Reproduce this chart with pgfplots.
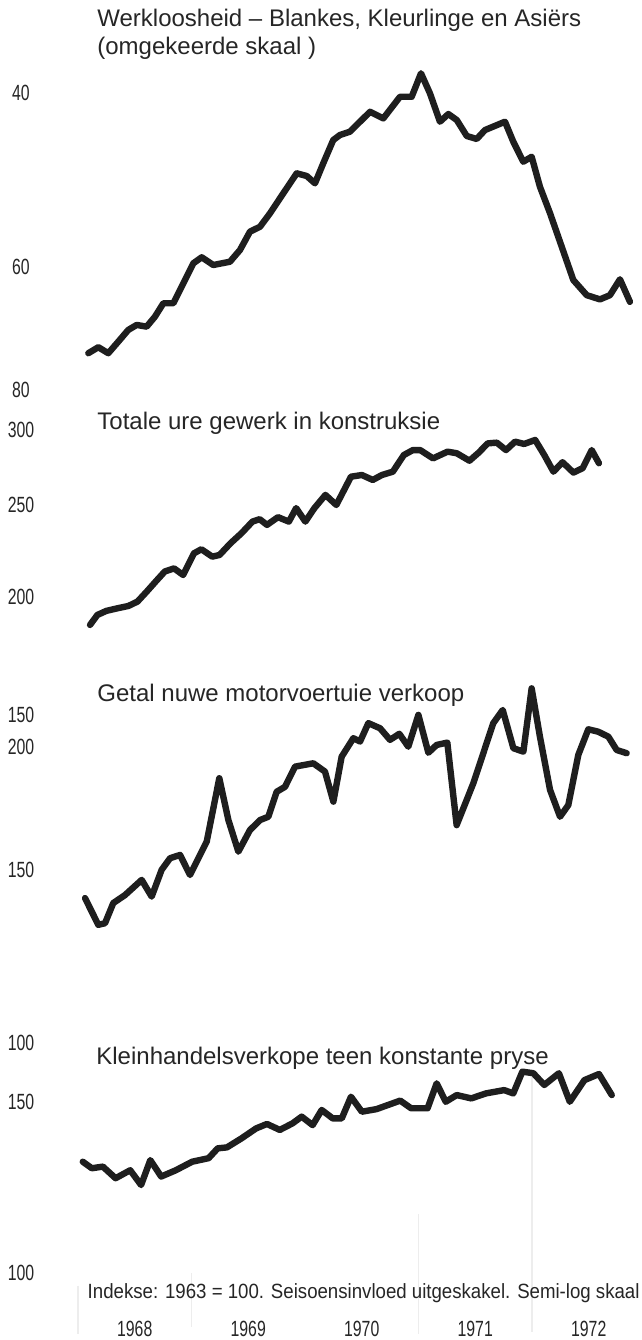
\documentclass[border=0pt]{standalone}
\usepackage{fontspec}
\setmainfont{Liberation Sans}
\newfontfamily\condfont[FakeStretch=0.72]{Liberation Sans}
\newfontfamily\notefont[FakeStretch=0.905]{Liberation Sans}
\usepackage{pgfplots}
\pgfplotsset{compat=1.18}
\definecolor{ink}{HTML}{1E1E1E}
\definecolor{txt}{HTML}{262626}

% one axis per panel, all laid over the same box (1px = 0.5pt)
\pgfplotsset{
  panel/.style={
    at={(0,0)}, anchor=south west, scale only axis,
    width=321pt, height=670pt,
    xmin=1967.3128, xmax=1972.9692,
    clip=false,
    axis line style={draw=none}, tick style={draw=none},
    xtick=\empty,
    yticklabel style={font=\condfont\fontsize{11}{11}\selectfont, text=txt, anchor=center, xshift=10.5pt},
  },
  series/.style={line width=3.2pt, color=ink, line join=round, line cap=round, mark=none},
}

\begin{document}
\begin{tikzpicture}
\useasboundingbox (0,0) rectangle (321pt,670pt);
\fill[white] (0,0) rectangle (321pt,670pt);

% Werkloosheid (omgekeerde skaal)
\begin{axis}[ymode=log, panel, y dir=reverse, ymin=32.16, ymax=737.5,
  ytick={40,60,80}, yticklabels={40,60,80}]
\addplot[series] coordinates {
(1968.091,73.43) (1968.179,72.41) (1968.267,73.43) (1968.355,71.47) (1968.443,69.54)
(1968.517,68.73) (1968.605,69.01) (1968.678,67.42) (1968.752,65.34) (1968.840,65.34)
(1968.928,62.36) (1969.016,59.51) (1969.090,58.68) (1969.192,59.75) (1969.339,59.29)
(1969.427,57.69) (1969.515,55.27) (1969.604,54.63) (1969.692,52.94) (1969.809,50.52)
(1969.927,48.22) (1970.015,48.52) (1970.088,49.36) (1970.161,47.10) (1970.249,44.61)
(1970.308,44.09) (1970.396,43.75) (1970.573,41.76) (1970.690,42.41) (1970.837,40.32)
(1970.940,40.32) (1971.022,38.17) (1971.101,40.00) (1971.189,42.74) (1971.263,41.98)
(1971.337,42.57) (1971.425,44.19) (1971.513,44.50) (1971.586,43.58) (1971.762,42.74)
(1971.835,44.78) (1971.923,46.93) (1971.997,46.39) (1972.070,49.76) (1972.159,52.94)
(1972.262,57.25) (1972.364,61.88) (1972.482,64.11) (1972.599,64.75) (1972.687,64.11)
(1972.775,61.78) (1972.863,65.12)
};
\end{axis}

% Totale ure gewerk in konstruksie
\begin{axis}[ymode=log, panel, ymin=32.81, ymax=853.3,
  ytick={150,200,250,300}, yticklabels={150,200,250,300}]
\addplot[series] coordinates {
(1968.106,186.7) (1968.171,191.3) (1968.251,193.2) (1968.347,194.4) (1968.444,195.5)
(1968.524,197.6) (1968.605,202.4) (1968.685,207.5) (1968.765,212.6) (1968.846,214.2)
(1968.926,210.8) (1969.022,222.2) (1969.087,224.4) (1969.183,220.4) (1969.247,221.3)
(1969.344,227.7) (1969.440,233.3) (1969.537,240.0) (1969.601,241.4) (1969.665,238.1)
(1969.762,242.6) (1969.858,240.0) (1969.922,248.0) (1970.003,240.0) (1970.083,248.0)
(1970.180,256.1) (1970.276,249.9) (1970.405,267.7) (1970.501,268.8) (1970.597,265.6)
(1970.678,268.8) (1970.774,271.0) (1970.871,282.2) (1970.951,285.6) (1971.015,285.6)
(1971.128,279.9) (1971.256,284.5) (1971.337,283.4) (1971.449,278.3) (1971.530,283.8)
(1971.610,290.3) (1971.690,290.8) (1971.771,285.6) (1971.851,291.5) (1971.931,289.9)
(1972.028,292.7) (1972.108,282.2) (1972.189,271.0) (1972.269,277.3) (1972.365,270.4)
(1972.446,273.3) (1972.526,285.6) (1972.590,276.6)
};
\end{axis}

% Getal nuwe motorvoertuie verkoop
\begin{axis}[ymode=log, panel, ymin=49.94, ymax=1145.2,
  ytick={100,150,200}, yticklabels={100,150,200}]
\addplot[series] coordinates {
(1968.062,140.3) (1968.179,131.8) (1968.238,132.3) (1968.311,138.7) (1968.414,141.3)
(1968.561,146.4) (1968.649,140.8) (1968.737,149.9) (1968.811,154.0) (1968.899,155.2)
(1968.987,148.1) (1969.134,160.1) (1969.245,185.7) (1969.325,168.4) (1969.413,156.4)
(1969.515,164.5) (1969.604,168.4) (1969.677,169.7) (1969.750,179.9) (1969.824,182.0)
(1969.912,190.8) (1970.073,192.3) (1970.176,188.6) (1970.250,175.8) (1970.323,195.3)
(1970.426,203.9) (1970.485,202.3) (1970.558,211.2) (1970.661,208.7) (1970.749,203.1)
(1970.831,206.0) (1970.910,199.9) (1970.999,215.3) (1971.087,197.1) (1971.160,200.7)
(1971.254,201.8) (1971.336,166.4) (1971.483,183.5) (1971.659,211.2) (1971.742,217.8)
(1971.836,199.2) (1971.924,197.6) (1971.997,229.1) (1972.070,204.6) (1972.159,180.7)
(1972.247,169.7) (1972.320,174.4) (1972.408,196.1) (1972.496,208.2) (1972.584,207.0)
(1972.673,204.6) (1972.746,198.4) (1972.834,196.9)
};
\end{axis}

% Kleinhandelsverkope teen konstante pryse
\begin{axis}[ymode=log, panel, ymin=85.32, ymax=2046.4,
  ytick={100,150}, yticklabels={100,150},
  xtick={1968.5,1969.5,1970.5,1971.5,1972.5},
  xticklabels={1968,1969,1970,1971,1972},
  xticklabel style={font=\condfont\fontsize{11}{11}\selectfont, text=txt, anchor=center, yshift=5.5pt}]
\draw[gray!14, line width=0.7pt] (axis cs:1968.0,97) -- (axis cs:1968.0,86.5);
\draw[gray!14, line width=0.7pt] (axis cs:1969.0,100) -- (axis cs:1969.0,88);
\draw[gray!14, line width=0.7pt] (axis cs:1971.0,115) -- (axis cs:1971.0,86.5);
\draw[gray!14, line width=0.7pt] (axis cs:1972.0,160) -- (axis cs:1972.0,87);
\addplot[series] coordinates {
(1968.042,130.2) (1968.122,128.2) (1968.219,128.7) (1968.331,125.2) (1968.460,127.6)
(1968.556,123.2) (1968.637,130.7) (1968.733,125.7) (1968.862,127.6) (1969.006,130.2)
(1969.151,131.3) (1969.231,134.4) (1969.312,134.7) (1969.440,137.6) (1969.569,140.9)
(1969.665,142.4) (1969.778,140.4) (1969.890,142.6) (1969.971,144.9) (1970.067,142.0)
(1970.147,147.2) (1970.244,144.3) (1970.324,144.3) (1970.405,151.9) (1970.501,146.6)
(1970.630,147.5) (1970.839,150.5) (1970.935,147.8) (1971.080,147.8) (1971.160,156.8)
(1971.240,150.1) (1971.337,152.5) (1971.465,151.3) (1971.594,153.1) (1971.755,154.3)
(1971.835,153.1) (1971.915,161.2) (1972.012,160.6) (1972.108,156.2) (1972.237,160.6)
(1972.333,150.1) (1972.462,158.0) (1972.590,160.3) (1972.703,152.5)
};
\end{axis}

% titles and note, placed in picture pixels (origin top left)
\begin{scope}[x=0.5pt, y=-0.5pt, yshift=670pt, every node/.style={inner sep=0pt, text=txt}]
\node[anchor=base west, font=\fontsize{12}{12}\selectfont] at (97,27) {Werkloosheid -- Blankes, Kleurlinge en Asiërs};
\node[anchor=base west, font=\fontsize{12}{12}\selectfont] at (97,55) {(omgekeerde skaal )};
\node[anchor=base west, font=\fontsize{12}{12}\selectfont] at (97,430) {Totale ure gewerk in konstruksie};
\node[anchor=base west, font=\fontsize{12}{12}\selectfont] at (97,702) {Getal nuwe motorvoertuie verkoop};
\node[anchor=base west, font=\fontsize{12}{12}\selectfont] at (96,1065) {Kleinhandelsverkope teen konstante pryse};
\node[anchor=base east, font=\notefont\fontsize{10.3}{10.3}\selectfont] at (640,1299) {Indekse: 1963 = 100. Seisoensinvloed uitgeskakel. Semi-log skaal};
\end{scope}
\end{tikzpicture}
\end{document}
